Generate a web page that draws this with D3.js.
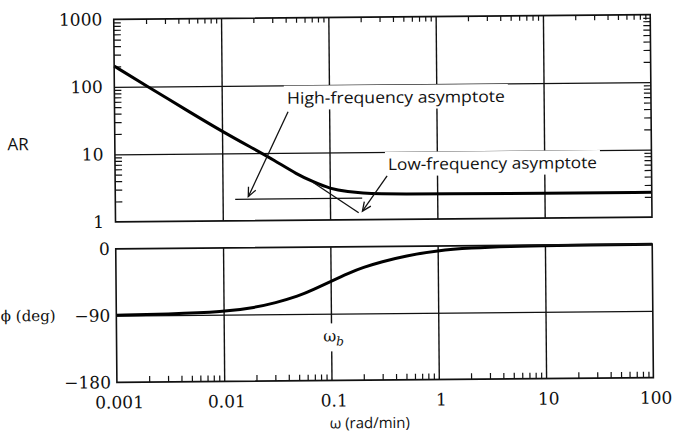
<!DOCTYPE html>
<html><head><meta charset="utf-8">
<script src="https://cdn.jsdelivr.net/npm/d3@7"></script>
<style>body{margin:0;background:#fff}svg{display:block}</style>
</head><body><svg id="c" width="675" height="432"></svg>
<script>
// ---- data ----
const omegaTicks = [0.001, 0.01, 0.1, 1, 10, 100];
const omegaTickLabels = ["0.001", "0.01", "0.1", "1", "10", "100"];
const omegaGrid = [0.01, 0.1, 1, 10];
const arTicks = [1, 10, 100, 1000];
const arTickLabels = ["1", "10", "100", "1000"];
const arGrid = [10, 100];
const phaseTicks = [0, -90, -180];
const phaseTickLabels = ["0", "\u221290", "\u2212180"];
const phaseGrid = [-90];
const arOmega  = [0.001, 0.002, 0.005, 0.01, 0.02, 0.03, 0.05, 0.07, 0.1, 0.15, 0.2, 0.3, 0.5, 1, 10, 100];
const arValues = [203, 102, 41.5, 21.2, 11.4, 7.9, 4.75, 3.7, 2.9, 2.6, 2.48, 2.41, 2.37, 2.35, 2.34, 2.34];
const phaseOmega  = [0.001, 0.003, 0.01, 0.02, 0.03, 0.05, 0.07, 0.1, 0.15, 0.2, 0.3, 0.5, 1, 2, 5, 10, 100];
const phaseValues = [-89.5, -88.7, -86.5, -80.5, -75, -66, -57, -46.5, -35, -28, -20.5, -13, -6, -3, -1.2, -0.6, 0];
const highAsymOmega = [0.0131, 0.2];
const highAsymAR    = [2.08, 2.08];
const lowAsymOmega  = [0.07, 0.185];
const lowAsymAR     = [3.6, 1.27];
const omegaB = 0.1;

// ---- layout ----
const L = 115.5, R = 652;
const T = {top: 17, bottom: 219.5};
const B = {top: 246.5, bottom: 380};
const serif = "'DejaVu Serif', serif";
const sans = "'Open Sans', sans-serif";

const x = d3.scaleLog().domain([0.001, 100]).range([L, R]);
const yAR = d3.scaleLog().domain([1, 1000]).range([T.bottom, T.top]);
const yPh = d3.scaleLinear().domain([-180, 0]).range([B.bottom, B.top]);

const minorX = [], minorAR = [];
for (let n = -3; n <= 1; n++) for (let k = 2; k <= 9; k++) minorX.push(k * Math.pow(10, n));
for (let n = 0; n <= 2; n++) for (let k = 2; k <= 9; k++) minorAR.push(k * Math.pow(10, n));

const svg = d3.select("#c");
const g = svg.append("g").attr("transform", "rotate(-0.5,383,220)");

function styleAxis(sel, w) {
  sel.select(".domain").remove();
  sel.selectAll(".tick line").attr("stroke", "#111").attr("stroke-width", w);
}

// grid lines
g.append("g").attr("transform", `translate(0,${T.bottom})`)
  .call(d3.axisBottom(x).tickValues(omegaGrid).tickSize(-(T.bottom - T.top)).tickFormat(""))
  .call(s => styleAxis(s, 1.4));
g.append("g").attr("transform", `translate(${L},0)`)
  .call(d3.axisLeft(yAR).tickValues(arGrid).tickSize(-(R - L)).tickFormat(""))
  .call(s => styleAxis(s, 1.3));
g.append("g").attr("transform", `translate(0,${B.bottom})`)
  .call(d3.axisBottom(x).tickValues(omegaGrid).tickSize(-(B.bottom - B.top)).tickFormat(""))
  .call(s => styleAxis(s, 1.4));
g.append("g").attr("transform", `translate(${L},0)`)
  .call(d3.axisLeft(yPh).tickValues(phaseGrid).tickSize(-(R - L)).tickFormat(""))
  .call(s => styleAxis(s, 1.3));

// minor ticks (inward)
g.append("g").attr("transform", `translate(0,${T.top})`)
  .call(d3.axisTop(x).tickValues(minorX).tickSize(-5).tickFormat("")).call(s => styleAxis(s, 1.2));
g.append("g").attr("transform", `translate(${L},0)`)
  .call(d3.axisLeft(yAR).tickValues(minorAR).tickSize(-7).tickFormat("")).call(s => styleAxis(s, 1.2));
g.append("g").attr("transform", `translate(${R},0)`)
  .call(d3.axisRight(yAR).tickValues(minorAR).tickSize(-7).tickFormat("")).call(s => styleAxis(s, 1.2));
g.append("g").attr("transform", `translate(0,${B.bottom})`)
  .call(d3.axisBottom(x).tickValues(minorX).tickSize(-6).tickFormat("")).call(s => styleAxis(s, 1.2));

// annotation layer (white boxes + text)
const ann = g.append("g");
function boxedText(xp, yp, txt, len, font, size) {
  const t = ann.append("text").attr("x", xp).attr("y", yp).text(txt)
    .attr("font-family", font).attr("font-size", size).attr("fill", "#111");
  if (len) t.attr("textLength", len).attr("lengthAdjust", "spacingAndGlyphs");
  const bb = t.node().getBBox();
  ann.insert("rect", "text").attr("x", bb.x - 3).attr("y", bb.y - 1)
    .attr("width", bb.width + 6).attr("height", bb.height + 2).attr("fill", "#fff");
  return t;
}
boxedText(288, 103, "High-frequency asymptote", 218, sans, 16);
boxedText(388.5, 170, "Low-frequency asymptote", 209, sans, 16);

// omega_b label over the 0.1 gridline
const wb = ann.append("text").attr("x", x(omegaB) - 8).attr("y", 341)
  .attr("font-family", serif).attr("font-size", 16).attr("fill", "#111");
wb.append("tspan").text("\u03c9");
wb.append("tspan").text("b").attr("font-style", "italic").attr("font-size", 12).attr("dy", 4);
const wbb = wb.node().getBBox();
ann.insert("rect", "text").attr("x", wbb.x - 2).attr("y", wbb.y - 3)
  .attr("width", wbb.width + 4).attr("height", wbb.height + 6).attr("fill", "#fff");

// curves
const arLine = d3.line().x((d, i) => x(arOmega[i])).y(d => yAR(d)).curve(d3.curveBasis);
g.append("path").attr("d", arLine(arValues)).attr("fill", "none")
  .attr("stroke", "#000").attr("stroke-width", 3);
const phLine = d3.line().x((d, i) => x(phaseOmega[i])).y(d => yPh(d)).curve(d3.curveBasis);
g.append("path").attr("d", phLine(phaseValues)).attr("fill", "none")
  .attr("stroke", "#000").attr("stroke-width", 3);

// asymptotes
const asym = d3.line().x(d => x(d[0])).y(d => yAR(d[1]));
g.append("path").attr("d", asym(highAsymOmega.map((w, i) => [w, highAsymAR[i]])))
  .attr("fill", "none").attr("stroke", "#111").attr("stroke-width", 1.3);
g.append("path").attr("d", asym(lowAsymOmega.map((w, i) => [w, lowAsymAR[i]])))
  .attr("fill", "none").attr("stroke", "#111").attr("stroke-width", 1.3);

// arrows
svg.append("defs").append("marker").attr("id", "ah").attr("markerUnits", "userSpaceOnUse")
  .attr("markerWidth", 14).attr("markerHeight", 14).attr("refX", 10).attr("refY", 5)
  .attr("orient", "auto").attr("viewBox", "0 0 14 10")
  .append("path").attr("d", "M1,1 L10,5 L1,9").attr("fill", "none")
  .attr("stroke", "#111").attr("stroke-width", 1.3);
g.append("line").attr("x1", 289).attr("y1", 111).attr("x2", 248.5).attr("y2", 195.5)
  .attr("stroke", "#111").attr("stroke-width", 1.3).attr("marker-end", "url(#ah)");
g.append("line").attr("x1", 387.5).attr("y1", 176).attr("x2", 362.5).attr("y2", 211)
  .attr("stroke", "#111").attr("stroke-width", 1.3).attr("marker-end", "url(#ah)");

// frames
g.append("rect").attr("x", L).attr("y", T.top).attr("width", R - L).attr("height", T.bottom - T.top)
  .attr("fill", "none").attr("stroke", "#111").attr("stroke-width", 1.6);
g.append("rect").attr("x", L).attr("y", B.top).attr("width", R - L).attr("height", B.bottom - B.top)
  .attr("fill", "none").attr("stroke", "#111").attr("stroke-width", 1.6);

// tick labels
function labelAxis(sel) {
  sel.select(".domain").remove();
  sel.attr("font-family", serif).attr("font-size", 17);
  sel.selectAll("text").attr("fill", "#111");
}
g.append("g").attr("transform", `translate(${L},0)`)
  .call(d3.axisLeft(yAR).tickValues(arTicks).tickFormat((d, i) => arTickLabels[i]).tickSize(0).tickPadding(11.5))
  .call(labelAxis);
g.append("g").attr("transform", `translate(${L},0)`)
  .call(d3.axisLeft(yPh).tickValues(phaseTicks).tickFormat((d, i) => phaseTickLabels[i]).tickSize(0).tickPadding(6))
  .call(labelAxis);
g.append("g").attr("transform", `translate(0,${B.bottom})`)
  .call(d3.axisBottom(x).tickValues(omegaTicks).tickFormat((d, i) => omegaTickLabels[i]).tickSize(0).tickPadding(14))
  .call(labelAxis)
  .call(s => s.selectAll("text").attr("dx", 2));

// axis titles
g.append("text").attr("x", 8).attr("y", 147).text("AR")
  .attr("font-family", sans).attr("font-size", 17).attr("fill", "#111");
g.append("text").attr("x", 0).attr("y", 318).text("\u03d5 (deg)")
  .attr("font-family", serif).attr("font-size", 15).attr("fill", "#111");
g.append("text").attr("x", 368).attr("y", 428).text("\u03c9 (rad/min)")
  .attr("text-anchor", "middle").attr("font-family", sans).attr("font-size", 15)
  .attr("fill", "#111");
</script></body></html>
